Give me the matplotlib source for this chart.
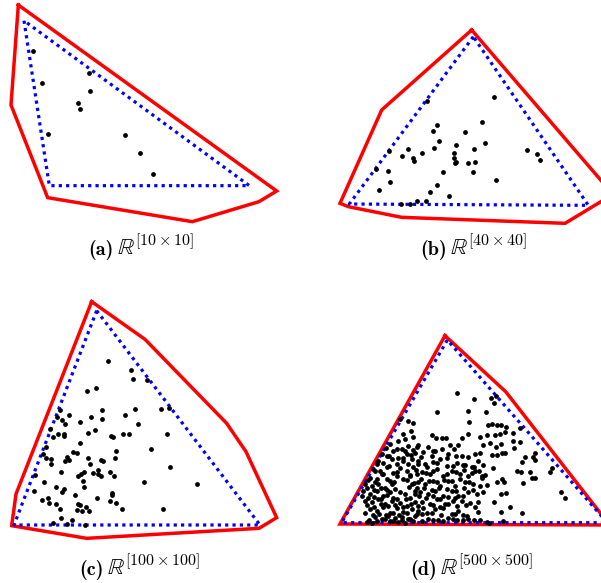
import numpy as np
import matplotlib
matplotlib.use("Agg")
import matplotlib.pyplot as plt

plt.rcParams['mathtext.fontset'] = 'cm'

# each panel uses its own units (1 unit = 1/3 pixel of the original picture)

# (a) R^[10x10]
a_hull = [(55, 15), (33, 315), (143, 593), (577, 665), (777, 605), (830, 573), (55, 15)]
a_tri = [(72, 62), (148, 557), (748, 557), (72, 62)]
a_x = [100, 268, 127, 271, 235, 241, 145, 375, 420, 460]
a_y = [153, 218, 249, 273, 310, 326, 401, 404, 459, 522]

# (b) R^[40x40]
b_hull = [(425, 30), (155, 270), (30, 550), (55, 560), (215, 592), (705, 610), (849, 523), (425, 30)]
b_tri = [(430, 50), (58, 552), (775, 556), (430, 50)]
b_x = [290, 493, 320, 308, 455, 405, 327, 465, 379, 311, 431, 178, 234, 276, 215, 249, 253, 372, 371, 374,
       378, 415, 435, 590, 622, 629, 138, 175, 338, 428, 180, 498, 322, 147, 300, 358, 262, 287, 213, 239]
b_y = [244, 231, 316, 334, 306, 335, 362, 368, 375, 383, 387, 393, 388, 399, 409, 413, 424, 398, 413, 428,
       427, 430, 427, 389, 402, 421, 446, 452, 455, 455, 487, 481, 496, 510, 517, 528, 543, 542, 551, 553]

# (c) R^[100x100]
c_hull = [(275, 35), (435, 148), (680, 400), (738, 485), (830, 683), (777, 715), (260, 745), (35, 707), (48, 612), (275, 35)]
c_tri = [(290, 62), (42, 705), (780, 705), (290, 62)]
c_x = [325, 392, 400, 440, 262, 288, 307, 180, 170, 208, 185, 196, 272, 305, 375, 405, 482, 507, 413, 241,
       151, 160, 192, 192, 265, 285, 333, 340, 368, 386, 500, 241, 137, 452, 128, 137, 218, 230, 200, 208,
       195, 263, 345, 347, 270, 304, 310, 153, 153, 511, 182, 105, 253, 244, 234, 278, 293, 294, 302, 331,
       342, 249, 252, 133, 168, 193, 186, 102, 225, 335, 335, 432, 591, 125, 143, 146, 167, 233, 241, 258,
       292, 329, 349, 180, 230, 245, 266, 367, 490, 183, 217, 160, 202, 255, 175]
c_y = [214, 240, 268, 270, 303, 294, 361, 359, 381, 374, 390, 403, 381, 386, 374, 358, 358, 355, 401, 397,
       417, 440, 433, 438, 429, 420, 437, 442, 432, 433, 433, 460, 470, 476, 493, 503, 485, 488, 500, 511,
       512, 503, 503, 484, 522, 511, 512, 523, 507, 530, 545, 556, 546, 553, 558, 550, 540, 551, 558, 546,
       558, 572, 592, 576, 590, 597, 607, 602, 614, 609, 614, 575, 583, 630, 625, 638, 643, 643, 645, 650,
       625, 632, 638, 658, 661, 662, 663, 656, 658, 685, 690, 700, 703, 705, 432]

# (d) R^[500x500]
d_hull = [(285, -148), (467, 20), (779, 420), (-30, 417), (285, -148)]
d_tri = [(292, -135), (-25, 413), (772, 413), (292, -135)]
d_x = [150, 175, 190, 160, 183, 145, 165, 190, 108, 120, 155, 175, 200, 95, 110, 130, 145, 170, 195, 85,
       100, 125, 140, 160, 185, 205, 70, 90, 110, 130, 150, 170, 190, 60, 80, 100, 120, 140, 160, 180,
       200, 45, 65, 85, 105, 125, 150, 165, 185, 200, 40, 60, 80, 100, 120, 140, 180, 195, 45, 65,
       85, 105, 125, 150, 170, 195, 60, 80, 100, 120, 140, 160, 185, 75, 95, 115, 135, 155, 175, 200,
       50, 65, 130, 145, 165, 190,
       322, 373, 260, 355, 358, 245, 258, 275, 287, 335, 355, 300, 323, 205, 235, 220, 255, 275, 295, 335,
       355, 375, 390, 205, 225, 250, 270, 290, 320, 345, 365, 385, 215, 240, 260, 280, 305, 330, 355, 375,
       395, 205, 225, 250, 270, 295, 315, 345, 370, 390, 210, 235, 255, 280, 305, 325, 355, 380, 215, 240,
       260, 285, 310, 335, 360, 385, 205, 230, 255, 280, 305, 325, 350, 385, 235, 265, 295, 320, 355, 390,
       423, 437, 433, 408, 415, 425, 440, 452, 468, 465, 410, 390, 435, 450, 490, 510, 400, 420, 438, 452,
       490, 493, 510, 455, 465, 425, 442, 525, 550, 515, 400, 430, 500, 512, 540, 545, 405, 395, 410, 440,
       455, 462, 518, 400, 452, 468, 433, 480, 515, 452, 410, 418, 460,
       555, 555, 600, 607, 555, 632, 645,
       80, 118, 175, 230, 262, 310, 338, 372,
       75, 95, 140, 180, 198, 228, 250, 292, 318, 342, 365, 388,
       55, 75, 112, 132, 170, 192, 212, 238, 262, 283, 305, 330, 358,
       52, 72, 92, 112, 135, 178, 195, 222, 245, 268, 292, 318, 342, 368,
       35, 55, 72, 92, 112, 128, 168, 208, 228, 250, 270, 295, 315, 340,
       50, 72, 92, 115, 135, 158, 182, 205, 220, 248, 270, 295, 322, 348, 375,
       45, 68, 88, 108, 128, 148, 170, 195, 215, 245, 272, 315, 340,
       58, 82, 105, 120, 155, 180, 215, 250, 280, 310, 340, 372,
       118, 160, 182, 212, 245, 290, 318,
       140, 165, 190, 250, 312]
d_y = [103, 108, 114, 146, 137, 168, 163, 157, 188, 178, 193, 183, 187, 207, 213, 198, 218, 207, 203, 228,
       233, 222, 238, 228, 221, 237, 252, 258, 247, 263, 249, 257, 246, 278, 283, 268, 288, 273, 282, 272,
       267, 297, 302, 298, 308, 296, 322, 327, 298, 308, 318, 328, 317, 333, 322, 342, 338, 327, 347, 352,
       343, 358, 348, 353, 362, 352, 372, 378, 367, 383, 368, 382, 373, 397, 402, 393, 398, 396, 403, 388,
       410, 413, 409, 411, 413, 409,
       25, 42, 80, 78, 112, 150, 160, 158, 158, 160, 148, 180, 180, 180, 185, 202, 198, 193, 207, 212,
       217, 208, 203, 227, 237, 232, 223, 242, 233, 241, 247, 228, 262, 268, 253, 272, 258, 267, 272, 257,
       273, 292, 297, 288, 303, 287, 302, 292, 297, 302, 322, 328, 318, 333, 318, 332, 322, 327, 352, 357,
       343, 357, 348, 347, 353, 352, 377, 383, 373, 368, 387, 378, 392, 382, 401, 406, 399, 404, 401, 406,
       38, 33, 53, 82, 120, 118, 120, 120, 125, 140, 150, 155, 150, 148, 145, 130, 180, 175, 185, 178,
       168, 190, 170, 205, 205, 210, 210, 215, 215, 230, 240, 248, 258, 260, 262, 278, 270, 280, 300, 292,
       282, 290, 295, 320, 327, 325, 352, 366, 385, 382, 410, 413, 408,
       205, 225, 260, 248, 280, 320, 338,
       236, 244, 238, 247, 233, 242, 239, 245,
       258, 266, 260, 269, 256, 263, 258, 267, 261, 255, 264, 259,
       284, 291, 283, 290, 286, 293, 281, 288, 292, 284, 289, 283, 290,
       309, 316, 308, 314, 311, 307, 317, 310, 315, 308, 313, 318, 309, 314,
       333, 340, 335, 342, 331, 338, 341, 334, 339, 332, 343, 336, 339, 333,
       360, 366, 358, 364, 361, 367, 357, 363, 368, 359, 365, 358, 364, 361, 366,
       384, 390, 386, 391, 383, 389, 385, 392, 386, 384, 390, 387, 391,
       404, 407, 403, 408, 405, 402, 407, 404, 408, 403, 406, 404,
       212, 218, 211, 217, 213, 219, 214,
       192, 198, 194, 197, 193]

labels = ['(a)', '(b)', '(c)', '(d)']
spaces = [r'$\mathbb{R}^{[10\times 10]}$', r'$\mathbb{R}^{[40\times 40]}$',
          r'$\mathbb{R}^{[100\times 100]}$', r'$\mathbb{R}^{[500\times 500]}$']

panels = [
    (a_hull, a_tri, a_x, a_y, (0, 0, 300, 230), (114, 255)),
    (b_hull, b_tri, b_x, b_y, (330, 20, 271, 210), (447, 255)),
    (c_hull, c_tri, c_x, c_y, (0, 290, 300, 250), (104, 575)),
    (d_hull, d_tri, d_x, d_y, (330, 320, 271, 220), (437, 575)),
]

W, H = 601, 583
fig = plt.figure(figsize=(W / 100, H / 100), dpi=100)

for i, (hull, tri, px, py, (x0, y0, w, h), (tx, ty)) in enumerate(panels):
    if i == 3:
        # panel d data origin sits at (350,385)
        xl = ((330 - 350) * 3, (601 - 350) * 3)
        yl = ((540 - 385) * 3, (320 - 385) * 3)
    else:
        xl = (0, w * 3)
        yl = (h * 3, 0)
    ax = fig.add_axes([x0 / W, 1 - (y0 + h) / H, w / W, h / H])
    hx, hy = zip(*hull)
    bx, by = zip(*tri)
    ax.plot(hx, hy, color='#ff0000', lw=2.5, solid_joinstyle='miter', zorder=1, clip_on=(i in (1, 3)))
    ax.plot(bx, by, color='#0000ff', lw=2.3, linestyle=(0, (1, 1.3)), zorder=2, clip_on=(i in (1, 3)))
    ax.scatter(px, py, s=12, color='black', zorder=3, linewidths=0)
    ax.set_xlim(*xl)
    ax.set_ylim(*yl)
    ax.axis('off')
    fig.text(tx / W, 1 - ty / H, labels[i], ha='right', va='baseline',
             fontsize=14.5, family='cmb10')
    fig.text((tx + 3) / W, 1 - ty / H, spaces[i], ha='left', va='baseline', fontsize=16.5)

fig.savefig("out.png", dpi=100)
